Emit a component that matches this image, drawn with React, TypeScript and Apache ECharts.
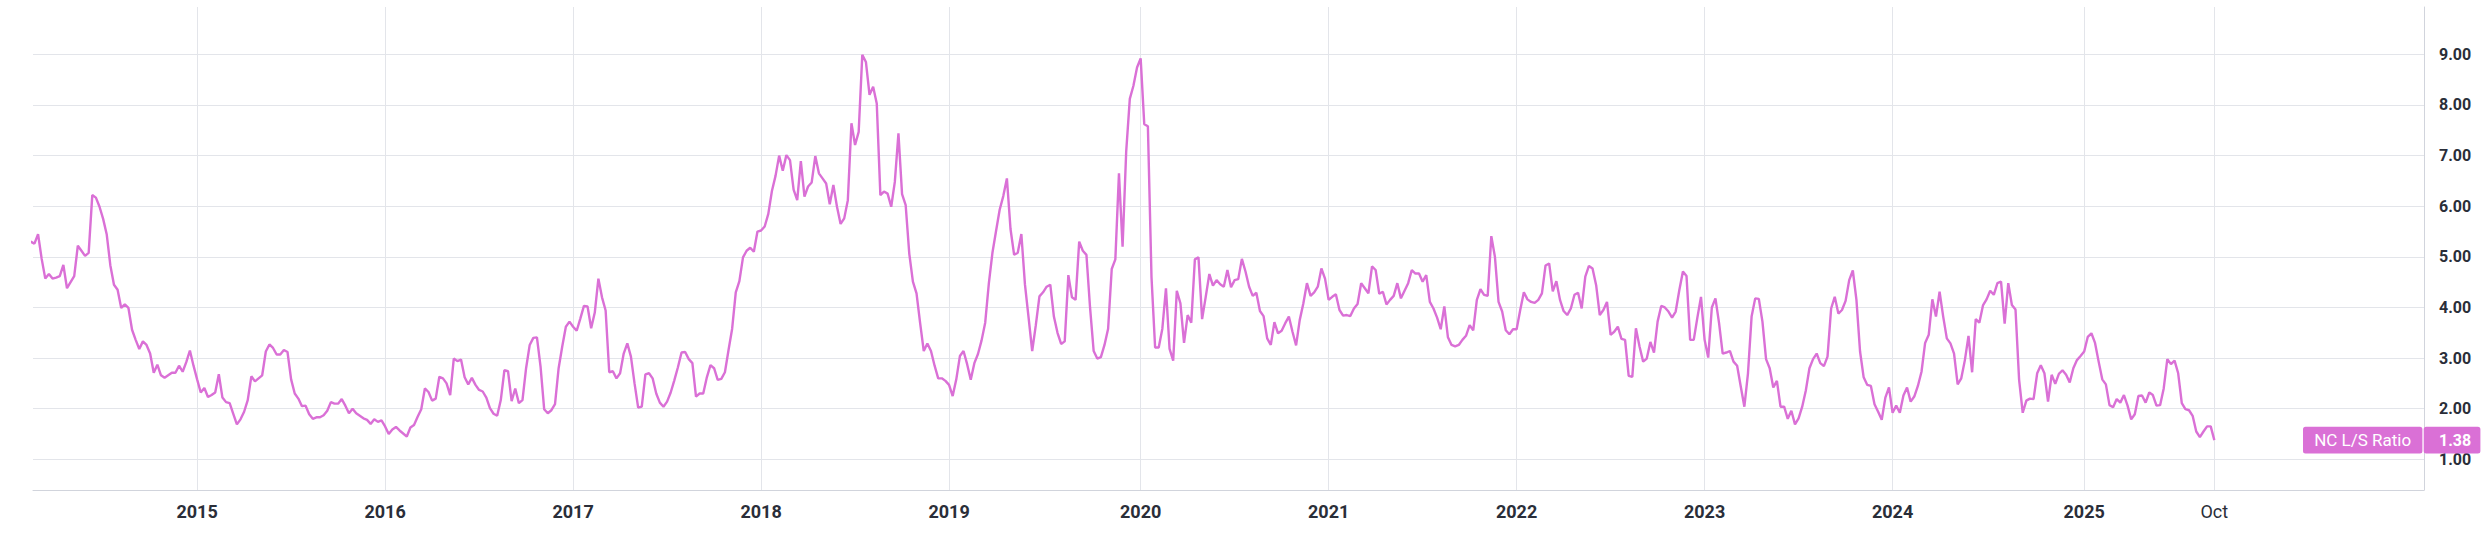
import React, { useEffect, useRef } from "react";
import * as echarts from "echarts";

// Weekly non-commercial long/short ratio, first week shown: 2014-02-18
const START_DATE = "2014-02-18";
const SERIES_NAME = "NC L/S Ratio";
const LAST_TICK_LABEL = "Oct";
const Y_TICKS = [1, 2, 3, 4, 5, 6, 7, 8, 9];

const ratio2014 = [5.30, 5.26, 5.45, 4.96, 4.57, 4.66, 4.57, 4.59, 4.62, 4.84, 4.38, 4.50, 4.62, 5.22, 5.12, 5.02, 5.08, 6.22, 6.17, 5.99, 5.75, 5.44, 4.83, 4.45, 4.35, 3.99, 4.06, 3.99, 3.56, 3.36, 3.18, 3.33, 3.26, 3.09, 2.71, 2.87, 2.66, 2.61, 2.66, 2.71, 2.71, 2.85, 2.73, 2.92, 3.15, 2.85];
const ratio2015 = [2.58, 2.32, 2.41, 2.23, 2.27, 2.32, 2.68, 2.22, 2.13, 2.11, 1.90, 1.69, 1.79, 1.94, 2.17, 2.64, 2.54, 2.60, 2.66, 3.13, 3.27, 3.20, 3.07, 3.07, 3.16, 3.12, 2.58, 2.30, 2.20, 2.05, 2.06, 1.89, 1.80, 1.83, 1.83, 1.87, 1.96, 2.13, 2.10, 2.10, 2.19, 2.06, 1.91, 2.00, 1.91, 1.86, 1.81, 1.78, 1.70, 1.79, 1.74, 1.77];
const ratio2016 = [1.65, 1.50, 1.59, 1.64, 1.57, 1.51, 1.45, 1.63, 1.68, 1.84, 1.99, 2.40, 2.33, 2.16, 2.20, 2.63, 2.60, 2.50, 2.27, 2.99, 2.94, 2.97, 2.62, 2.48, 2.61, 2.47, 2.37, 2.34, 2.22, 2.01, 1.90, 1.86, 2.17, 2.76, 2.74, 2.15, 2.40, 2.11, 2.17, 2.80, 3.26, 3.40, 3.41, 2.83, 1.99, 1.91, 1.97, 2.09, 2.80, 3.23, 3.62, 3.72];
const ratio2017 = [3.62, 3.54, 3.78, 4.03, 4.02, 3.59, 3.90, 4.57, 4.20, 3.94, 2.72, 2.74, 2.60, 2.70, 3.09, 3.29, 3.03, 2.50, 2.02, 2.04, 2.68, 2.70, 2.60, 2.30, 2.12, 2.04, 2.14, 2.32, 2.56, 2.82, 3.11, 3.12, 2.98, 2.90, 2.24, 2.30, 2.30, 2.62, 2.86, 2.80, 2.57, 2.59, 2.72, 3.16, 3.58, 4.30, 4.52, 4.99, 5.12, 5.18, 5.10, 5.50];
const ratio2018 = [5.52, 5.60, 5.85, 6.30, 6.60, 7.00, 6.70, 7.01, 6.91, 6.33, 6.12, 6.89, 6.19, 6.39, 6.47, 6.99, 6.65, 6.55, 6.45, 6.04, 6.42, 5.99, 5.65, 5.76, 6.12, 7.64, 7.21, 7.47, 8.99, 8.85, 8.20, 8.36, 8.03, 6.22, 6.29, 6.25, 5.99, 6.48, 7.44, 6.24, 6.02, 5.06, 4.51, 4.28, 3.69, 3.14, 3.29, 3.14, 2.85, 2.60, 2.60, 2.55];
const ratio2019 = [2.47, 2.25, 2.58, 3.04, 3.14, 2.88, 2.57, 2.90, 3.08, 3.35, 3.70, 4.47, 5.08, 5.51, 5.93, 6.20, 6.55, 5.55, 5.04, 5.08, 5.45, 4.45, 3.80, 3.14, 3.65, 4.22, 4.30, 4.41, 4.45, 3.82, 3.50, 3.28, 3.33, 4.64, 4.20, 4.15, 5.30, 5.12, 5.04, 4.00, 3.14, 2.99, 3.02, 3.26, 3.58, 4.76, 4.95, 6.65, 5.20, 7.08, 8.12, 8.38, 8.74];
const ratio2020 = [8.92, 7.62, 7.58, 4.60, 3.21, 3.21, 3.58, 4.38, 3.18, 2.95, 4.33, 4.08, 3.30, 3.85, 3.70, 4.95, 4.99, 3.77, 4.21, 4.66, 4.43, 4.54, 4.46, 4.41, 4.74, 4.40, 4.54, 4.56, 4.96, 4.71, 4.41, 4.23, 4.29, 3.93, 3.83, 3.39, 3.26, 3.71, 3.49, 3.54, 3.69, 3.82, 3.52, 3.25, 3.75, 4.08, 4.48, 4.23, 4.30, 4.41, 4.77, 4.57];
const ratio2021 = [4.15, 4.21, 4.26, 3.95, 3.84, 3.85, 3.83, 3.98, 4.07, 4.48, 4.38, 4.28, 4.81, 4.74, 4.27, 4.31, 4.06, 4.15, 4.23, 4.48, 4.18, 4.33, 4.48, 4.74, 4.67, 4.67, 4.51, 4.64, 4.11, 3.98, 3.80, 3.57, 4.02, 3.41, 3.26, 3.23, 3.26, 3.36, 3.44, 3.65, 3.55, 4.15, 4.36, 4.25, 4.23, 5.41, 5.00, 4.11, 3.92, 3.55, 3.47, 3.57];
const ratio2022 = [3.57, 3.95, 4.30, 4.16, 4.11, 4.09, 4.15, 4.28, 4.83, 4.87, 4.32, 4.52, 4.15, 3.93, 3.85, 3.98, 4.25, 4.29, 3.98, 4.61, 4.82, 4.77, 4.44, 3.85, 3.95, 4.11, 3.46, 3.52, 3.62, 3.38, 3.36, 2.65, 2.63, 3.59, 3.23, 2.93, 2.99, 3.32, 3.11, 3.72, 4.03, 4.00, 3.92, 3.80, 3.92, 4.34, 4.71, 4.62, 3.36, 3.36, 3.80, 4.21];
const ratio2023 = [3.36, 3.01, 4.00, 4.18, 3.69, 3.09, 3.11, 3.14, 2.93, 2.85, 2.44, 2.04, 2.70, 3.82, 4.18, 4.17, 3.72, 2.98, 2.80, 2.42, 2.55, 2.04, 2.04, 1.80, 1.96, 1.69, 1.81, 2.04, 2.36, 2.80, 2.98, 3.09, 2.90, 2.84, 3.03, 3.98, 4.21, 3.88, 3.95, 4.13, 4.54, 4.73, 4.15, 3.13, 2.62, 2.47, 2.45, 2.09, 1.94, 1.78, 2.22, 2.42];
const ratio2024 = [1.92, 2.06, 1.92, 2.26, 2.42, 2.14, 2.24, 2.45, 2.73, 3.30, 3.46, 4.16, 3.82, 4.31, 3.82, 3.39, 3.29, 3.09, 2.48, 2.60, 2.96, 3.44, 2.72, 3.77, 3.70, 4.04, 4.16, 4.33, 4.25, 4.48, 4.51, 3.68, 4.48, 4.05, 3.96, 2.57, 1.92, 2.16, 2.20, 2.19, 2.70, 2.86, 2.70, 2.14, 2.67, 2.49, 2.69, 2.76, 2.67, 2.52, 2.80, 2.96, 3.04];
const ratio2025 = [3.13, 3.42, 3.49, 3.30, 2.93, 2.58, 2.48, 2.07, 2.03, 2.19, 2.12, 2.27, 2.06, 1.79, 1.89, 2.25, 2.26, 2.12, 2.32, 2.27, 2.06, 2.07, 2.40, 2.98, 2.88, 2.95, 2.70, 2.11, 1.99, 1.97, 1.86, 1.55, 1.44, 1.55, 1.65, 1.65, 1.38];

const LINE_COLOR = "#da70d6";
const GRID_COLOR = "#e3e5ea";
const BORDER_COLOR = "#d1d4dc";
const TEXT_COLOR = "#2a2e39";
const FONT = "Roboto, 'Noto Sans', sans-serif";

export default function App() {
  const ref = useRef<HTMLDivElement>(null);

  useEffect(() => {
    document.body.style.margin = "0";
    const el = ref.current;
    if (!el) return;
    const chart = echarts.init(el, null, { renderer: "svg" });

    const values = [
      ...ratio2014, ...ratio2015, ...ratio2016, ...ratio2017, ...ratio2018, ...ratio2019,
      ...ratio2020, ...ratio2021, ...ratio2022, ...ratio2023, ...ratio2024, ...ratio2025,
    ];
    const start = Date.parse(START_DATE + "T00:00:00Z");
    const dates = values.map((_, k) => new Date(start + k * 7 * 86400000));
    const tickIdx: number[] = [];
    const tickText: Record<number, string> = {};
    dates.forEach((d, k) => {
      if (k > 0 && d.getUTCFullYear() !== dates[k - 1].getUTCFullYear()) {
        tickIdx.push(k);
        tickText[k] = "{y|" + d.getUTCFullYear() + "}";
      }
    });
    const lastIdx = values.length - 1;
    tickIdx.push(lastIdx);
    tickText[lastIdx] = "{m|" + LAST_TICK_LABEL + "}";

    const data = values.map((v, k) => [k, v]);
    const gridLeft = 33;
    const gridRight = 67;

    chart.setOption({
      animation: false,
      grid: { left: gridLeft, right: gridRight, top: 7, bottom: 51, containLabel: false },
      xAxis: {
        type: "value",
        min: 0.6,
        max: 662,
        axisLine: { show: true, lineStyle: { color: BORDER_COLOR, width: 1 } },
        axisTick: { show: false, customValues: tickIdx },
        axisLabel: {
          customValues: tickIdx,
          margin: 12,
          formatter: (v: number) => tickText[Math.round(v)] ?? "",
          rich: {
            y: { fontSize: 18, fontWeight: "bold", color: TEXT_COLOR, fontFamily: FONT },
            m: { fontSize: 18, fontWeight: "normal", color: TEXT_COLOR, fontFamily: FONT },
          },
        },
        splitLine: { show: true, lineStyle: { color: GRID_COLOR, width: 1 } },
      },
      yAxis: {
        type: "value",
        position: "right",
        min: 0.394,
        max: 9.936,
        axisLine: { show: true, lineStyle: { color: BORDER_COLOR, width: 1 } },
        axisTick: { show: false, customValues: Y_TICKS },
        axisLabel: {
          customValues: Y_TICKS,
          margin: 15,
          formatter: (v: number) => v.toFixed(2),
          color: TEXT_COLOR,
          fontSize: 16,
          fontWeight: "bold",
          fontFamily: FONT,
        },
        splitLine: { show: true, lineStyle: { color: GRID_COLOR, width: 1 } },
      },
      series: [
        {
          name: SERIES_NAME,
          type: "line",
          data,
          showSymbol: false,
          symbol: "none",
          clip: true,
          lineStyle: { color: LINE_COLOR, width: 2.4 },
          itemStyle: { color: LINE_COLOR },
          emphasis: { disabled: true },
        },
      ],
    });

    const lastValue = values[lastIdx];
    const yPix = chart.convertToPixel({ yAxisIndex: 0 }, lastValue) as number;
    const right = chart.getWidth() - gridRight;
    const h = 26.6;
    chart.setOption({
      graphic: [
        {
          type: "rect",
          shape: { x: right - 121, y: yPix - h / 2, width: 119.4, height: h, r: 2.5 },
          style: { fill: LINE_COLOR },
          silent: true,
          z: 100,
        },
        {
          type: "rect",
          shape: { x: right - 0.3, y: yPix - h / 2, width: 56.7, height: h, r: 2.5 },
          style: { fill: LINE_COLOR },
          silent: true,
          z: 100,
        },
        {
          type: "text",
          x: right - 61.3,
          y: yPix,
          style: {
            text: SERIES_NAME,
            fill: "#ffffff",
            fontSize: 17,
            fontFamily: FONT,
            align: "center",
            verticalAlign: "middle",
          },
          silent: true,
          z: 101,
        },
        {
          type: "text",
          x: right + 15,
          y: yPix,
          style: {
            text: lastValue.toFixed(2),
            fill: "#ffffff",
            fontSize: 16,
            fontWeight: "bold",
            fontFamily: FONT,
            align: "left",
            verticalAlign: "middle",
          },
          silent: true,
          z: 101,
        },
      ],
    });

    return () => chart.dispose();
  }, []);

  return <div ref={ref} style={{ width: 2491, height: 541 }} />;
}
